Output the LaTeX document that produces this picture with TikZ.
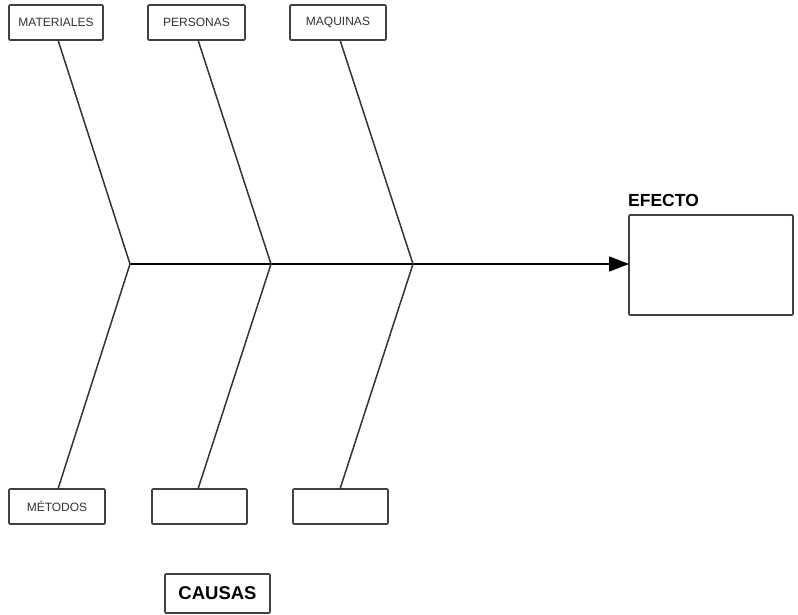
\documentclass[tikz,border=0pt]{standalone}
\usepackage{fontspec}
\setmainfont{Liberation Sans}
\usetikzlibrary{arrows.meta}
\begin{document}
\begin{tikzpicture}[x=1pt,y=-1pt,
  causebox/.style={draw=black!75, line width=1.7pt, rounded corners=1pt, fill=white},
  bone/.style={draw=black!80, line width=1.5pt},
  lbl/.style={font=\fontsize{12}{13}\selectfont, text=black!80}]
\useasboundingbox (0,0) rectangle (798,615);
% cause boxes along the top
\draw[causebox] (9,5) rectangle (103,40);
\node[lbl] (mat) at (56,22.5) {MATERIALES};
\draw[causebox] (148,5) rectangle (245,40);
\node[lbl] (per) at (196.5,22.5) {PERSONAS};
\draw[causebox] (290,5) rectangle (386,40);
\node[lbl] (maq) at (338,22.5) {MAQUINAS};
% cause boxes along the bottom
\draw[causebox] (9,489) rectangle (105,524);
\node[lbl] (met) at (57,506.5) {MÉTODOS};
\draw[causebox] (152,489) rectangle (247,524);
\draw[causebox] (293,489) rectangle (388,524);
% effect box and headings
\draw[causebox] (629,215) rectangle (793,315);
\node[anchor=south west, inner sep=0pt, font=\fontsize{17.5}{18}\selectfont\bfseries] (efecto) at (628,207) {EFECTO};
\draw[causebox] (165,574) rectangle (270,613);
\node[font=\fontsize{18.5}{20}\selectfont\bfseries] (causas) at (217.5,593.5) {CAUSAS};
% joints on the spine
\coordinate (j1) at (130,264);
\coordinate (j2) at (271,264);
\coordinate (j3) at (413,264);
\coordinate (tip) at (629,264);
% spine
\draw[line width=1.6pt, -{Triangle[length=20pt,width=15pt]}] (j1) -- (tip);
% bones
\draw[bone] (58,40) -- (j1) -- (58,489);
\draw[bone] (198,40) -- (j2) -- (198,489);
\draw[bone] (340,40) -- (j3) -- (340,489);
\end{tikzpicture}
\end{document}
